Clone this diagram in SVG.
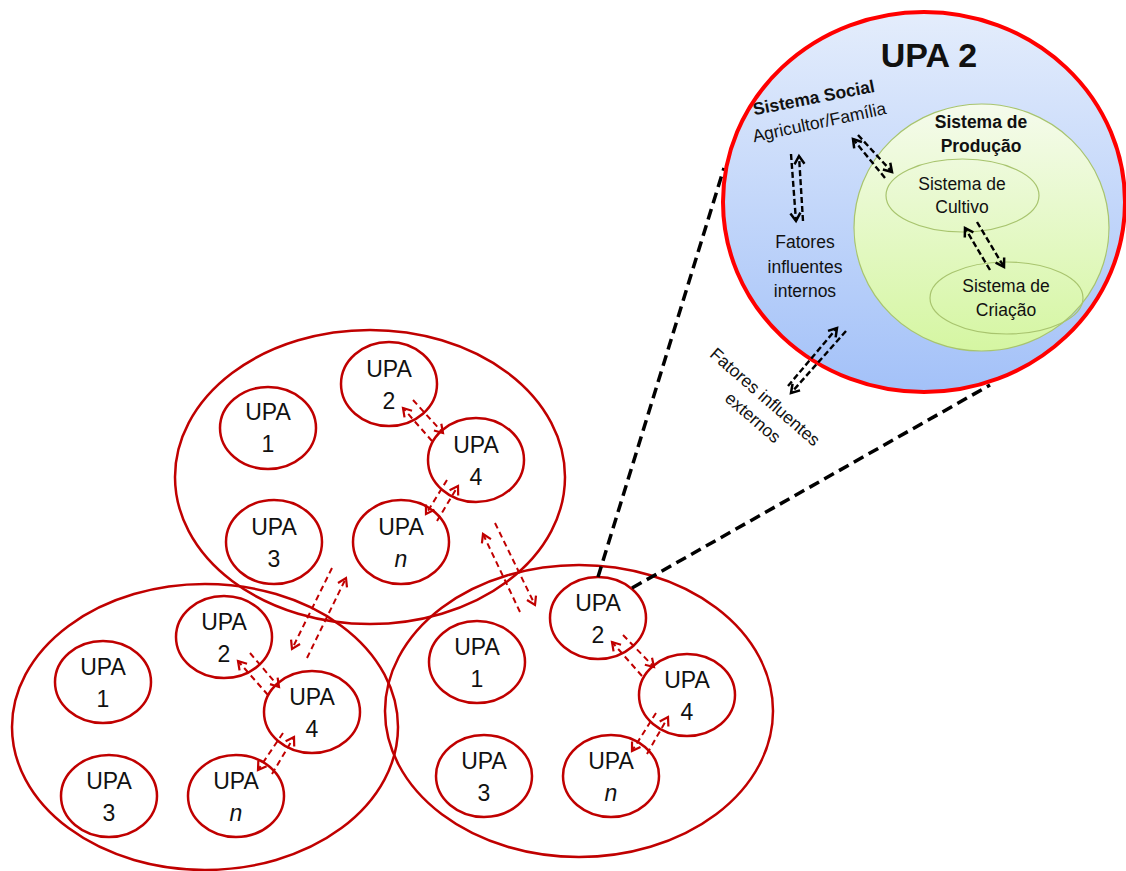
<svg xmlns="http://www.w3.org/2000/svg" width="1126" height="871" viewBox="0 0 1126 871">
  <defs>
    <linearGradient id="blueFill" x1="0" y1="0" x2="0" y2="1">
      <stop offset="0" stop-color="#E4EDFC"/>
      <stop offset="1" stop-color="#A3C1F8"/>
    </linearGradient>
    <linearGradient id="greenFill" x1="0" y1="0" x2="0" y2="1">
      <stop offset="0" stop-color="#F5FBEC"/>
      <stop offset="1" stop-color="#D5F6A2"/>
    </linearGradient>
    <marker id="redHead" markerUnits="userSpaceOnUse" markerWidth="14" markerHeight="14" refX="10" refY="6" orient="auto" overflow="visible">
      <path d="M2,1 L10,6 L2,11" fill="none" stroke="#C00000" stroke-width="2.2" stroke-dasharray="none" stroke-linejoin="miter"/>
    </marker>
    <marker id="blackHead" markerUnits="userSpaceOnUse" markerWidth="14" markerHeight="14" refX="10" refY="6" orient="auto" overflow="visible">
      <path d="M2,1 L10,6 L2,11" fill="none" stroke="#000" stroke-width="2.5" stroke-dasharray="none" stroke-linejoin="miter"/>
    </marker>
  </defs>
  <style>
    .cluster { fill: none; stroke: #C00000; stroke-width: 2.5; }
    .upa { fill: none; stroke: #C00000; stroke-width: 2.5; }
    .lbl { font-family: "Liberation Sans", Arial, sans-serif; font-size: 23px; fill: #111; text-anchor: middle; }
    .ital { font-style: italic; }
    .rarrow { fill: none; stroke: #C00000; stroke-width: 2; stroke-dasharray: 6 4; marker-end: url(#redHead); }
    .barrow { fill: none; stroke: #000; stroke-width: 2.4; stroke-dasharray: 6 3; marker-end: url(#blackHead); }
    .zoomline { fill: none; stroke: #000; stroke-width: 3.5; stroke-dasharray: 11 6; }
    .txt { font-family: "Liberation Sans", Arial, sans-serif; font-size: 17.5px; fill: #111; text-anchor: middle; }
    .bold { font-weight: bold; }
  </style>

  <rect width="1126" height="871" fill="#FFFFFF"/>

  <!-- community clusters -->
  <g id="cluster-top">
    <ellipse class="cluster" cx="370" cy="477" rx="195" ry="147"/>
  </g>
  <g id="cluster-left">
    <ellipse class="cluster" cx="205" cy="727" rx="193" ry="143"/>
  </g>
  <g id="cluster-right">
    <ellipse class="cluster" cx="579" cy="711" rx="194" ry="146"/>
  </g>

  <!-- top cluster units -->
  <g id="top-upa1"><ellipse class="upa" cx="268" cy="428" rx="48" ry="41"/><text class="lbl" x="268" y="420">UPA</text><text class="lbl" x="268" y="452">1</text></g>
  <g id="top-upa2"><ellipse class="upa" cx="389" cy="384" rx="48" ry="42"/><text class="lbl" x="389" y="377">UPA</text><text class="lbl" x="389" y="409">2</text></g>
  <g id="top-upa4"><ellipse class="upa" cx="476" cy="460" rx="48" ry="42"/><text class="lbl" x="476" y="453">UPA</text><text class="lbl" x="476" y="485">4</text></g>
  <g id="top-upa3"><ellipse class="upa" cx="274" cy="542" rx="48" ry="42"/><text class="lbl" x="274" y="535">UPA</text><text class="lbl" x="274" y="567">3</text></g>
  <g id="top-upan"><ellipse class="upa" cx="401" cy="542" rx="48" ry="42"/><text class="lbl" x="401" y="535">UPA</text><text class="lbl ital" x="401" y="567">n</text></g>

  <!-- left cluster units -->
  <g id="left-upa1"><ellipse class="upa" cx="103" cy="682" rx="48" ry="41"/><text class="lbl" x="103" y="675">UPA</text><text class="lbl" x="103" y="707">1</text></g>
  <g id="left-upa2"><ellipse class="upa" cx="224" cy="637" rx="48" ry="41"/><text class="lbl" x="224" y="630">UPA</text><text class="lbl" x="224" y="662">2</text></g>
  <g id="left-upa4"><ellipse class="upa" cx="312" cy="712" rx="48" ry="41"/><text class="lbl" x="312" y="705">UPA</text><text class="lbl" x="312" y="737">4</text></g>
  <g id="left-upa3"><ellipse class="upa" cx="109" cy="796" rx="48" ry="41"/><text class="lbl" x="109" y="789">UPA</text><text class="lbl" x="109" y="821">3</text></g>
  <g id="left-upan"><ellipse class="upa" cx="236" cy="796" rx="48" ry="41"/><text class="lbl" x="236" y="789">UPA</text><text class="lbl ital" x="236" y="821">n</text></g>

  <!-- right cluster units -->
  <g id="right-upa1"><ellipse class="upa" cx="477" cy="662" rx="48" ry="41"/><text class="lbl" x="477" y="655">UPA</text><text class="lbl" x="477" y="687">1</text></g>
  <g id="right-upa2"><ellipse class="upa" cx="598" cy="618" rx="48" ry="41"/><text class="lbl" x="598" y="611">UPA</text><text class="lbl" x="598" y="643">2</text></g>
  <g id="right-upa4"><ellipse class="upa" cx="687" cy="695" rx="48" ry="41"/><text class="lbl" x="687" y="688">UPA</text><text class="lbl" x="687" y="720">4</text></g>
  <g id="right-upa3"><ellipse class="upa" cx="484" cy="776" rx="48" ry="41"/><text class="lbl" x="484" y="769">UPA</text><text class="lbl" x="484" y="801">3</text></g>
  <g id="right-upan"><ellipse class="upa" cx="611" cy="776" rx="48" ry="41"/><text class="lbl" x="611" y="769">UPA</text><text class="lbl ital" x="611" y="801">n</text></g>

  <!-- exchange arrows between units and clusters -->
  <g id="connectors">
    <line class="rarrow" x1="413" y1="400" x2="443" y2="433"/>
    <line class="rarrow" x1="432" y1="441" x2="403" y2="408"/>
    <line class="rarrow" x1="447" y1="480" x2="426" y2="514"/>
    <line class="rarrow" x1="437" y1="521" x2="458" y2="486"/>

    <line class="rarrow" x1="495" y1="523" x2="535" y2="605"/>
    <line class="rarrow" x1="520" y1="612" x2="483" y2="534"/>
    <line class="rarrow" x1="332" y1="568" x2="292" y2="649"/>
    <line class="rarrow" x1="307" y1="658" x2="346" y2="578"/>

    <line class="rarrow" x1="250" y1="653" x2="279" y2="687"/>
    <line class="rarrow" x1="268" y1="695" x2="238" y2="661"/>
    <line class="rarrow" x1="283" y1="733" x2="258" y2="770"/>
    <line class="rarrow" x1="272" y1="774" x2="294" y2="737"/>

    <line class="rarrow" x1="623" y1="635" x2="654" y2="667"/>
    <line class="rarrow" x1="642" y1="676" x2="612" y2="642"/>
    <line class="rarrow" x1="656" y1="713" x2="632" y2="751"/>
    <line class="rarrow" x1="647" y1="754" x2="668" y2="717"/>

    <!-- detail projection lines -->
    <line class="zoomline" x1="598" y1="577" x2="724" y2="168"/>
    <line class="zoomline" x1="632" y1="588" x2="990" y2="385"/>
  </g>

  <!-- detail view of UPA 2 -->
  <g id="upa2-detail">
    <ellipse cx="924" cy="202" rx="201" ry="190" fill="url(#blueFill)" stroke="#FF0000" stroke-width="4"/>
    <text x="929" y="67" font-family="Liberation Sans, Arial, sans-serif" font-size="34" font-weight="bold" fill="#111" text-anchor="middle">UPA 2</text>
  </g>
  <g id="sistema-producao">
    <ellipse cx="981.5" cy="227.5" rx="127.5" ry="123.5" fill="url(#greenFill)" stroke="#A8C46E" stroke-width="1.2"/>
    <text class="txt bold" font-size="16.5" x="981" y="128">Sistema de</text>
    <text class="txt bold" font-size="16.5" x="981" y="152">Produção</text>
  </g>
  <g id="sistema-cultivo">
    <ellipse cx="962.5" cy="195.5" rx="76.5" ry="36.5" fill="none" stroke="#A8C46E" stroke-width="1.2"/>
    <text class="txt" x="962" y="190">Sistema de</text>
    <text class="txt" x="962" y="213">Cultivo</text>
  </g>
  <g id="sistema-criacao">
    <ellipse cx="1006.5" cy="298" rx="76.5" ry="36" fill="none" stroke="#A8C46E" stroke-width="1.2"/>
    <text class="txt" x="1006" y="292">Sistema de</text>
    <text class="txt" x="1006" y="316">Criação</text>
  </g>
  <g id="sistema-social">
    <text class="txt bold" font-size="16.5" transform="translate(815,103.5) rotate(-11)">Sistema Social</text>
    <text class="txt" font-size="18.5" transform="translate(820.5,128) rotate(-12)">Agricultor/Família</text>
  </g>
  <g id="fatores-internos">
    <text class="txt" font-size="19" x="805" y="248">Fatores</text>
    <text class="txt" font-size="19" x="805" y="273">influentes</text>
    <text class="txt" font-size="19" x="805" y="297">internos</text>
  </g>
  <g id="fatores-externos">
    <text class="txt" font-size="18.5" transform="translate(763,403) rotate(41)">
      <tspan x="0" y="0">Fatores influentes</tspan>
      <tspan x="2" y="23.5">externos</tspan>
    </text>
  </g>

  <!-- flows inside the unit -->
  <g id="detail-connectors">
    <line class="barrow" x1="791" y1="154" x2="796" y2="221"/>
    <line class="barrow" x1="803" y1="221" x2="799" y2="156"/>
    <line class="barrow" x1="858" y1="135" x2="892" y2="172"/>
    <line class="barrow" x1="885" y1="178" x2="853" y2="139"/>
    <line class="barrow" x1="977" y1="222" x2="1004" y2="267"/>
    <line class="barrow" x1="990" y1="270" x2="965" y2="228"/>
    <line class="barrow" x1="846" y1="331" x2="791" y2="393"/>
    <line class="barrow" x1="788" y1="386" x2="837" y2="328"/>
  </g>
</svg>
